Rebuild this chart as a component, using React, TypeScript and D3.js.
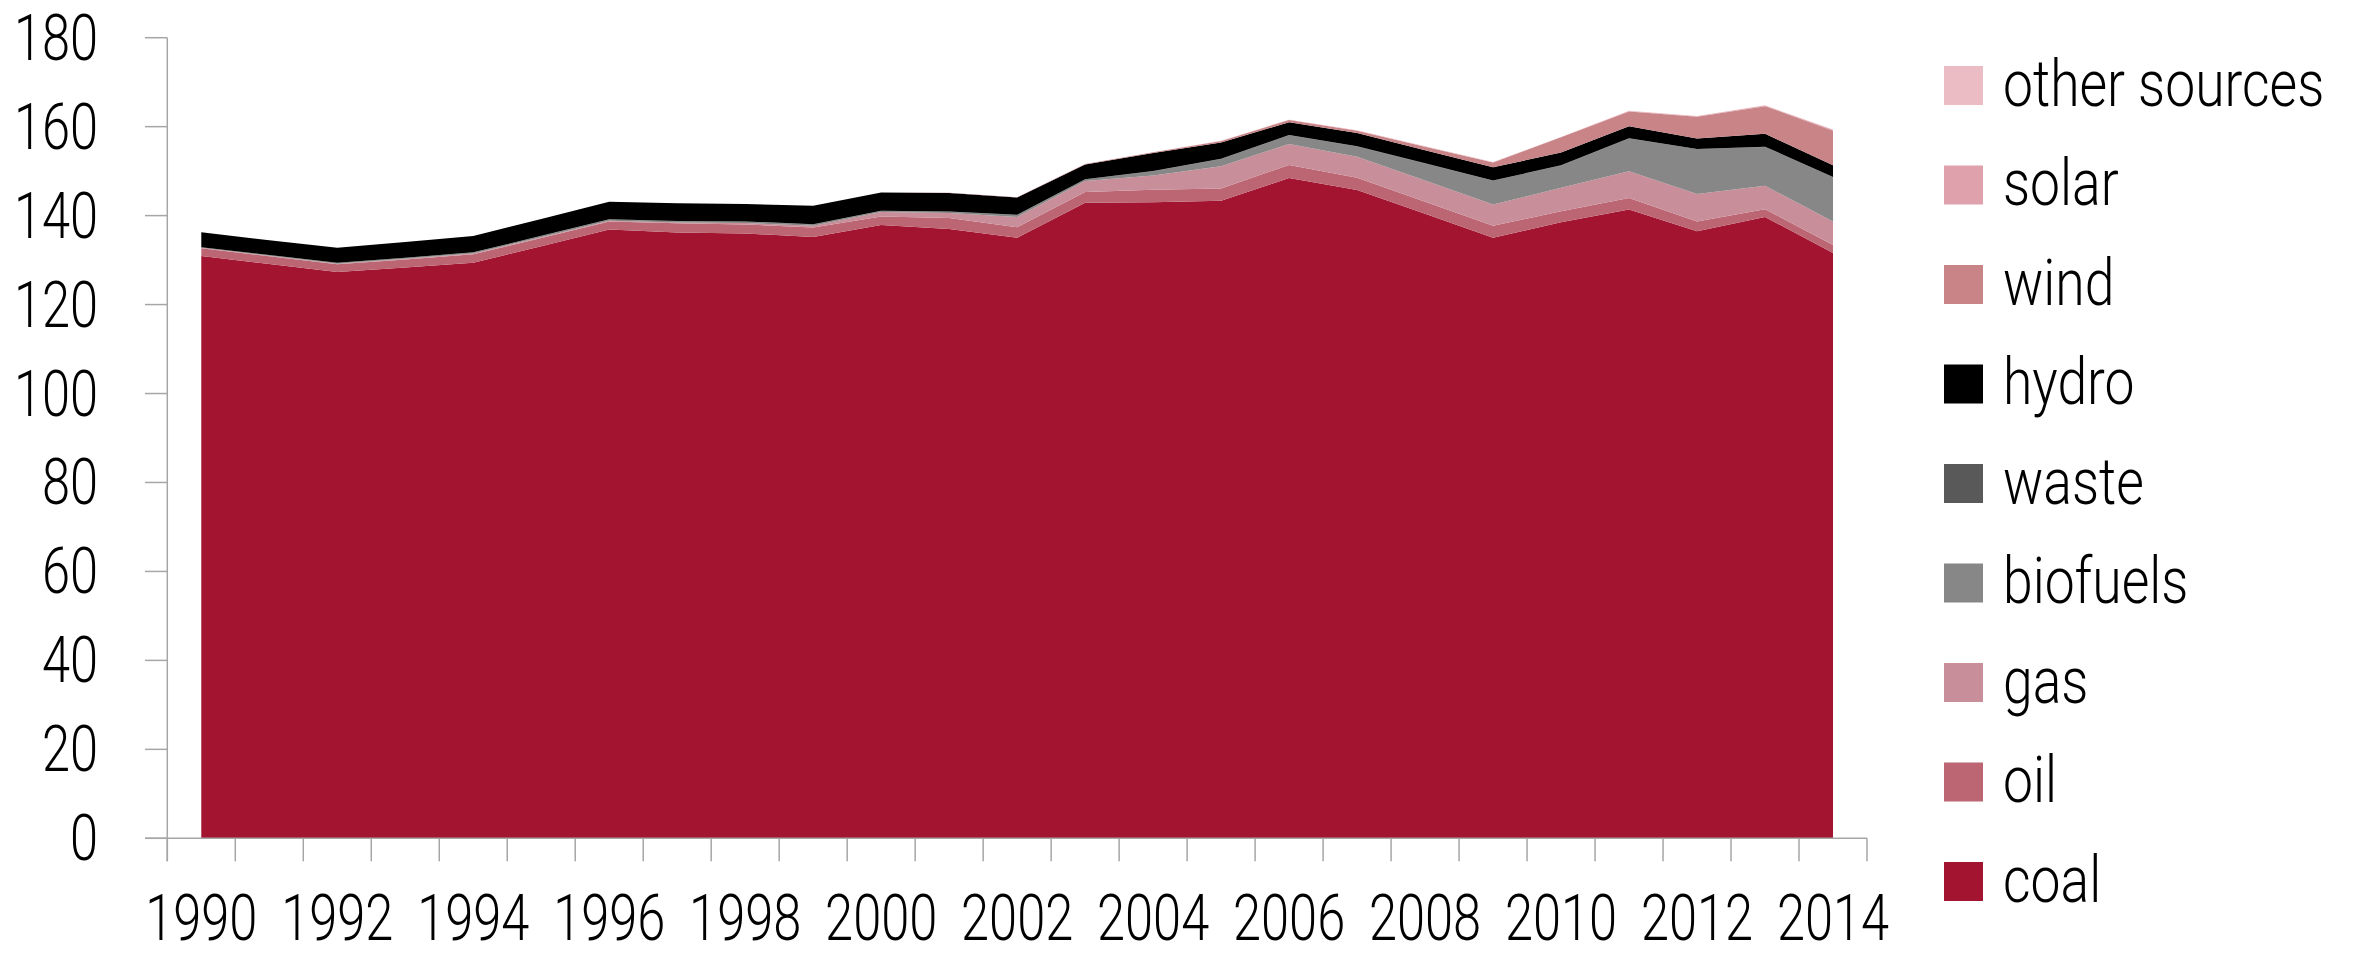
import React from "react";
import * as d3 from "d3";

const years = [1990, 1991, 1992, 1993, 1994, 1995, 1996, 1997, 1998, 1999, 2000, 2001, 2002, 2003, 2004, 2005, 2006, 2007, 2008, 2009, 2010, 2011, 2012, 2013, 2014];

const coal = [130.9, 129.1, 127.3, 128.35, 129.4, 133.1, 136.85, 136.2, 136.0, 135.2, 137.9, 137.0, 135.0, 142.9, 143.0, 143.35, 148.45, 145.75, 140.4, 135.0, 138.5, 141.35, 136.5, 139.7, 131.6];
const oil = [1.75, 1.75, 1.75, 1.8, 1.9, 1.85, 1.8, 2.1, 2.0, 2.1, 1.9, 2.45, 2.4, 2.4, 2.8, 2.75, 2.95, 2.75, 2.7, 2.7, 2.5, 2.6, 2.2, 1.75, 1.8];
const gas = [0.1, 0.12, 0.15, 0.17, 0.2, 0.2, 0.2, 0.15, 0.35, 0.4, 1.0, 1.15, 2.3, 2.5, 3.2, 5.0, 4.7, 4.75, 4.8, 4.8, 5.25, 6.05, 6.15, 5.25, 5.3];
const biofuels = [0.1, 0.1, 0.15, 0.15, 0.2, 0.25, 0.3, 0.3, 0.3, 0.3, 0.25, 0.25, 0.45, 0.35, 1.0, 1.65, 1.95, 2.3, 3.8, 5.35, 5.0, 7.35, 10.1, 8.75, 9.95];
const waste = [0.05, 0.05, 0.05, 0.05, 0.05, 0.05, 0.05, 0.05, 0.05, 0.05, 0.05, 0.05, 0.05, 0.05, 0.05, 0.05, 0.05, 0.05, 0.05, 0.05, 0.05, 0.05, 0.05, 0.05, 0.05];
const hydro = [3.35, 3.35, 3.4, 3.55, 3.65, 3.8, 3.9, 4.0, 3.9, 4.15, 4.1, 4.2, 3.9, 3.3, 4.0, 3.65, 2.9, 3.0, 2.95, 2.95, 2.9, 2.7, 2.35, 2.9, 2.65];
const wind = [0, 0, 0, 0, 0, 0, 0, 0, 0, 0, 0.02, 0.03, 0.05, 0.1, 0.2, 0.35, 0.5, 0.5, 0.8, 1.1, 3.4, 3.3, 4.85, 6.2, 7.75];
const solar = [0, 0, 0, 0, 0, 0, 0, 0, 0, 0, 0, 0, 0, 0, 0, 0, 0.03, 0.03, 0.03, 0.03, 0.05, 0.1, 0.15, 0.15, 0.2];
const otherSources = [0, 0, 0, 0, 0, 0, 0, 0, 0, 0, 0, 0, 0, 0, 0.02, 0.02, 0.05, 0.05, 0.05, 0.05, 0.05, 0.05, 0.05, 0.05, 0.05];

const seriesNames = ["coal", "oil", "gas", "biofuels", "waste", "hydro", "wind", "solar", "other sources"];
const seriesValues = [coal, oil, gas, biofuels, waste, hydro, wind, solar, otherSources];
const seriesColors = ["#A31430", "#BC6573", "#C88E99", "#878787", "#595959", "#000000", "#C98488", "#DFA2AC", "#EBBCC3"];

const yTicks = [0, 20, 40, 60, 80, 100, 120, 140, 160, 180];

const W = 2361;
const H = 956;
const FONT = "Roboto, 'Noto Sans', sans-serif";

function CText(props: { x: number; y: number; sx: number; size: number; anchor?: string; children: React.ReactNode }) {
  const { x, y, sx, size, anchor, children } = props;
  return (
    <text
      transform={`translate(${x},${y}) scale(${sx},1)`}
      fontSize={size}
      fontFamily={FONT}
      fontWeight={300}
      fill="#000"
      textAnchor={anchor || "start"}
    >
      {children}
    </text>
  );
}

export default function App() {
  const plotLeft = 167.3;
  const plotRight = 1867;
  const plotBottom = 838.3;
  const plotTop = 37.7;

  const x = d3.scaleBand<number>().domain(years).range([plotLeft, plotRight]).paddingInner(0).paddingOuter(0);
  const y = d3.scaleLinear().domain([0, 180]).range([plotBottom, plotTop]);
  const cx = (yr: number) => (x(yr) as number) + x.bandwidth() / 2;

  const table = years.map((yr, i) => {
    const row: Record<string, number> = { year: yr };
    seriesNames.forEach((n, k) => (row[n] = seriesValues[k][i]));
    return row;
  });
  const stack = d3.stack<Record<string, number>>().keys(seriesNames);
  const layers = stack(table);
  const area = d3
    .area<d3.SeriesPoint<Record<string, number>>>()
    .x((d) => cx(d.data.year))
    .y0((d) => y(d[0]))
    .y1((d) => y(d[1]))
    .curve(d3.curveLinear);

  const axisColor = "#A6A6A6";
  const boundaries = years.map((yr) => x(yr) as number).concat([plotRight]);

  const legendOrder = [...seriesNames].reverse();
  const legendColors = [...seriesColors].reverse();

  return (
    <svg
      width={W}
      height={H}
      viewBox={`0 0 ${W} ${H}`}
      style={{ position: "absolute", left: 0, top: 0, display: "block", background: "#fff" }}
    >
      <rect x={0} y={0} width={W} height={H} fill="#fff" />
      {layers.map((layer, k) => (
        <path key={seriesNames[k]} d={area(layer) || ""} fill={seriesColors[k]} stroke="none" />
      ))}

      {/* y axis */}
      <line x1={plotLeft} x2={plotLeft} y1={plotTop} y2={plotBottom + 23} stroke={axisColor} strokeWidth={1.5} />
      {yTicks.map((t) => (
        <g key={t}>
          <line x1={145} x2={plotLeft} y1={y(t)} y2={y(t)} stroke={axisColor} strokeWidth={1.5} />
          <CText x={98} y={y(t) + 22} sx={0.79} size={64} anchor="end">
            {t}
          </CText>
        </g>
      ))}

      {/* x axis */}
      <line x1={145} x2={plotRight} y1={plotBottom} y2={plotBottom} stroke={axisColor} strokeWidth={1.5} />
      {boundaries.map((bx, i) => (
        <line key={i} x1={bx} x2={bx} y1={plotBottom} y2={plotBottom + 23} stroke={axisColor} strokeWidth={1.5} />
      ))}
      {years
        .filter((yr) => yr % 2 === 0)
        .map((yr) => (
          <CText key={yr} x={cx(yr)} y={940} sx={0.79} size={64} anchor="middle">
            {yr}
          </CText>
        ))}

      {/* legend */}
      {legendOrder.map((name, i) => {
        const top = 66 + i * 99.5;
        return (
          <g key={name}>
            <rect x={1944} y={top} width={39} height={39} fill={legendColors[i]} />
            <CText x={2003} y={top + 39.5} sx={0.835} size={64}>
              {name}
            </CText>
          </g>
        );
      })}
    </svg>
  );
}
